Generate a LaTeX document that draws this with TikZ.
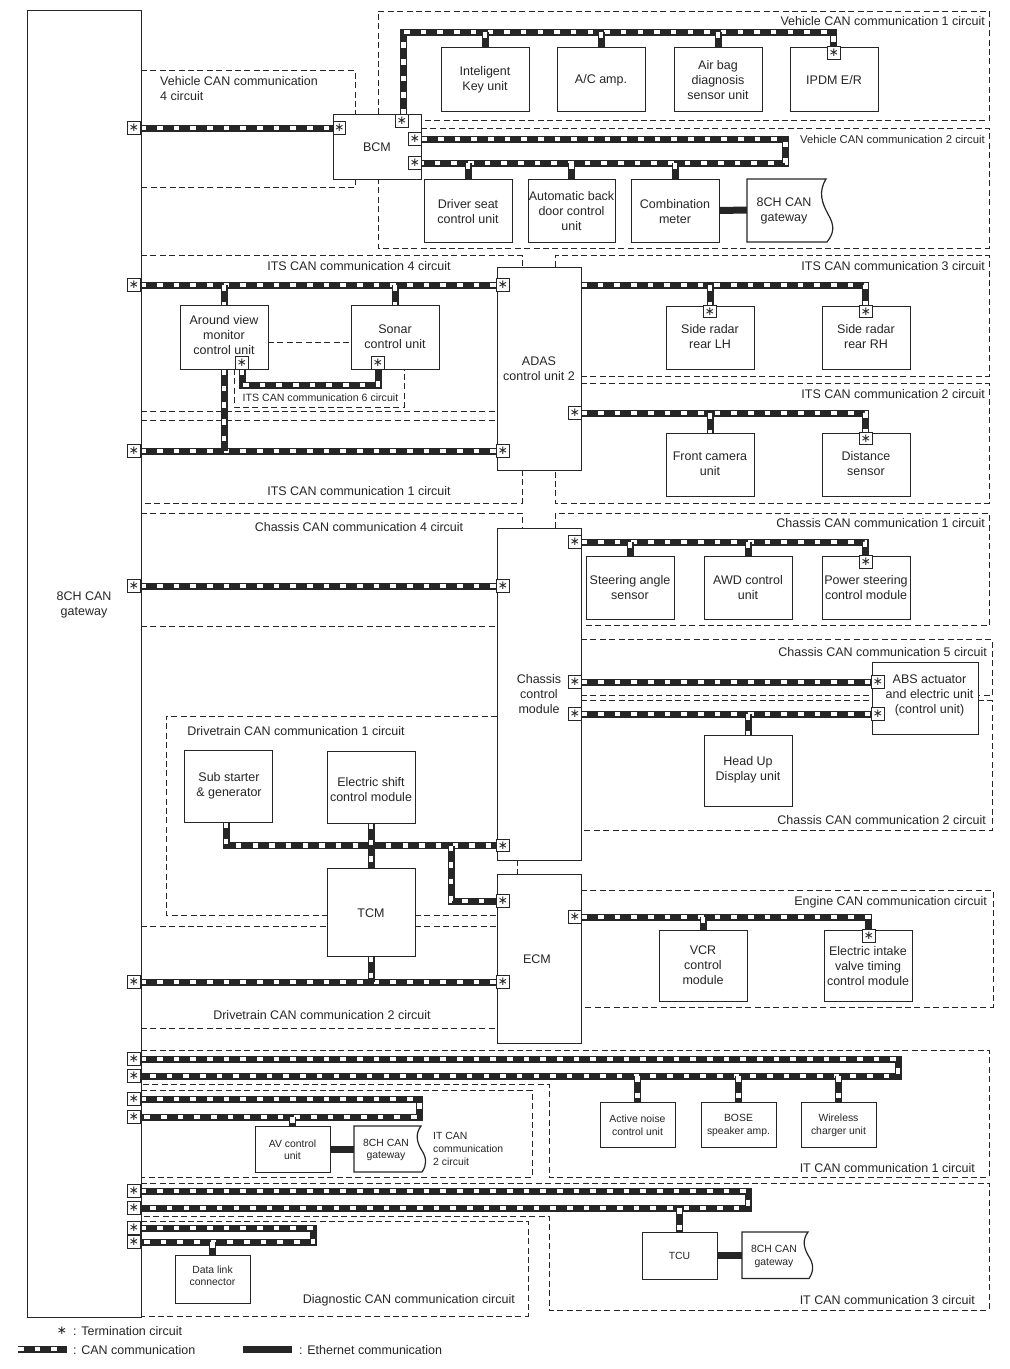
\documentclass[tikz,border=0pt]{standalone}
\usepackage{fontspec}
\setmainfont{Liberation Sans}
\newfontfamily\symf{DejaVu Sans}
\usetikzlibrary{backgrounds}
\definecolor{ink}{HTML}{262626}
\tikzset{
  x=1pt,y=-1pt,
  every node/.style={text=ink},
  box/.style={draw=ink,line width=1pt,fill=white,inner sep=0pt,outer sep=0pt},
  wavybox/.style={draw=ink,line width=1.2pt,fill=white},
  boxtext/.style={align=center,inner sep=0pt,font=\fontsize{12.5}{15}\selectfont},
  smalltext/.style={align=center,inner sep=0pt,font=\fontsize{10.4}{12.7}\selectfont},
  labr/.style={anchor=east,inner sep=0pt,yshift=-.9pt,font=\fontsize{12.5}{15}\selectfont},
  labm/.style={inner sep=0pt,yshift=-.9pt,font=\fontsize{12.5}{15}\selectfont},
  labl/.style={anchor=west,inner sep=0pt,yshift=-.9pt,align=left,font=\fontsize{12.5}{15}\selectfont},
  term/.style={box,minimum size=12.6pt,font=\symf\fontsize{12}{12}\selectfont},
  region/.style={draw=ink,line width=1pt,dash pattern=on 6pt off 3.4pt},
  canbus/.style={draw=ink,line width=7pt,postaction={draw=white,line width=4.6pt,dash pattern=on 5.6pt off 11.07pt}},
  ether/.style={draw=ink,line width=7pt},
}
\newcommand\BOX[7][0]{%
  \node[box,minimum width={#5-#3},minimum height={#6-#4}] (#2) at ({(#3+#5)/2},{(#4+#6)/2}) {};
  \node[boxtext,yshift={(#1-.9)*1pt}] (#2txt) at (#2) {#7};
}
\newcommand\SBOX[7][0]{%
  \node[box,minimum width={#5-#3},minimum height={#6-#4}] (#2) at ({(#3+#5)/2},{(#4+#6)/2}) {};
  \node[smalltext,yshift={(#1-.9)*1pt}] (#2txt) at (#2) {#7};
}
\newcommand\T[3]{\node[term] (#1) at (#2,#3) {∗};}
\begin{document}
\begin{tikzpicture}
\useasboundingbox (0,0) rectangle (1010,1369);
% ---------- units
\BOX[59]{gw}{27}{10}{141}{1317}{8CH CAN\\gateway}
\BOX{bcm}{333}{114}{421}{179}{BCM}
\BOX{ikey}{441}{47}{529}{111}{Inteligent\\Key unit}
\BOX{ac}{557}{47}{645}{111}{A/C amp.}
\BOX{airbag}{674}{47}{762}{111}{Air bag\\diagnosis\\sensor unit}
\BOX{ipdm}{790}{47}{878}{111}{IPDM E/R}
\BOX{driver}{424}{179}{512}{242}{Driver seat\\control unit}
\BOX{autob}{528}{179}{615}{242}{Automatic back\\door control\\unit}
\BOX{combi}{631}{179}{719}{242}{Combination\\meter}
\draw[wavybox] (747,179) -- (826,179) .. controls (818,192) and (822,203) .. (828,214) .. controls (835,226) and (834,233) .. (827,242) -- (747,242) -- cycle;
\node[boxtext,minimum width=74pt,minimum height=63pt] (gwa) at (784,210) {};
\node[boxtext,yshift=-.9pt] (gwatxt) at (gwa) {8CH CAN\\gateway};
\BOX[1]{adas}{497}{267}{581}{470}{ADAS\\control unit 2}
\BOX[3]{avm}{180}{305}{268}{369}{Around view\\monitor\\control unit}
\BOX[1.5]{sonar}{351}{305}{439}{369}{Sonar\\control unit}
\BOX[2]{srl}{666}{306}{754}{369}{Side radar\\rear LH}
\BOX[2]{srr}{822}{306}{910}{369}{Side radar\\rear RH}
\BOX[2]{fcam}{666}{433}{754}{496}{Front camera\\unit}
\BOX[2]{dist}{822}{433}{910}{496}{Distance\\sensor}
\BOX[1]{chassis}{497}{528}{581}{860}{Chassis\\control\\module}
\BOX[1]{steer}{586}{556}{674}{619}{Steering angle\\sensor}
\BOX[1]{awd}{704}{556}{792}{619}{AWD control\\unit}
\BOX[1]{pstr}{822}{556}{910}{619}{Power steering\\control module}
\BOX[3]{abs}{872}{662}{978}{734}{\hspace*{9pt}ABS actuator\\\hspace*{9pt}and electric unit\\\hspace*{9pt}(control unit)}
\BOX[2]{hud}{704}{735}{792}{806}{Head Up\\Display unit}
\BOX[1.5]{subst}{184}{750}{272}{822}{\hspace*{2pt}Sub starter\\\hspace*{2pt}\&\ generator}
\BOX[-1.5]{eshift}{327}{751}{415}{823}{Electric shift\\control module}
\BOX{tcm}{327}{868}{415}{956}{TCM}
\BOX{ecm}{497}{874}{581}{1043}{ECM\hspace{4pt}}
\BOX[1.5]{vcr}{659}{930}{747}{1001}{VCR\\control\\module}
\BOX{eivt}{824}{930}{912}{1001}{Electric intake\\valve timing\\control module}
\SBOX{anc}{600}{1102}{675}{1147}{Active noise\\control unit}
\SBOX{bose}{701}{1102}{776}{1147}{BOSE\\speaker amp.}
\SBOX{wcu}{801}{1102}{876}{1147}{Wireless\\charger unit}
\SBOX{av}{255}{1126}{330}{1172}{AV control\\unit}
\draw[wavybox] (354,1126) -- (421,1126) .. controls (415,1134) and (417,1142) .. (421,1149) .. controls (427,1158) and (427,1165) .. (422,1172) -- (354,1172) -- cycle;
\node[smalltext,minimum width=64pt,minimum height=46pt] (gwb) at (386,1149) {};
\node[smalltext,yshift=-.9pt] (gwbtxt) at (gwb) {8CH CAN\\gateway};
\SBOX{tcu}{642}{1232}{717}{1279}{TCU}
\draw[wavybox] (742,1232) -- (808,1232) .. controls (802,1240) and (804,1248) .. (808,1255) .. controls (814,1264) and (814,1271) .. (809,1278.5) -- (742,1278.5) -- cycle;
\node[smalltext,minimum width=64pt,minimum height=46pt] (gwc) at (774,1255.5) {};
\node[smalltext,yshift=-.9pt] (gwctxt) at (gwc) {8CH CAN\\gateway};
\SBOX[4.5]{dlc}{175}{1255.5}{250}{1303}{Data link\\connector}
% ---------- termination circuits
\T{tgBcm}{134}{128}\T{tBcmL}{339.5}{128}\T{tBcmT}{402}{121}\T{tBcmA}{415}{139}\T{tBcmB}{415}{163}\T{tIpdm}{834}{53}
\T{tg4a}{134}{285}\T{tA4}{503}{285}\T{tg1}{134}{451}\T{tA1}{503}{451}\T{tA2}{575}{413}
\T{tSrl}{710}{311.5}\T{tSrr}{866}{311.5}\T{tDist}{866}{438.5}\T{tAvm}{242}{363}\T{tSon}{378}{363}
\T{tg4c}{134}{586}\T{tC4}{503}{586}\T{tC1}{575}{542}\T{tPs}{866}{562}
\T{tC5}{575}{682}\T{tC2}{575}{714}\T{tAbsA}{878}{682}\T{tAbsB}{878}{714}
\T{tCd}{503}{845.5}\T{tEd}{503}{901}\T{tEe}{575}{917}\T{tEi}{869}{936}\T{tEd2}{503}{982}\T{tgd2}{134}{982}
\T{tgi1a}{134}{1059}\T{tgi1b}{134}{1076}\T{tgi2a}{134}{1099}\T{tgi2b}{134}{1117}
\T{tgi3a}{134}{1191}\T{tgi3b}{134}{1208}\T{tgda}{134}{1228}\T{tgdb}{134}{1242}
% ---------- circuit labels
\node[labl] (l4a) at (160,80) {Vehicle CAN communication};
\node[labl] (l4b) at (160,95) {4 circuit};
\node[labr] (lv1) at (985,20) {Vehicle CAN communication 1 circuit};
\node[labr,font=\fontsize{11.3}{13}\selectfont] (lv2) at (985,138.5) {Vehicle CAN communication 2 circuit};
\node[labm] (li4) at (359,265.5) {ITS CAN communication 4 circuit};
\node[labr] (li3) at (985,265.5) {ITS CAN communication 3 circuit};
\node[labr] (li2) at (985,393.5) {ITS CAN communication 2 circuit};
\node[labm] (li1) at (359,490.5) {ITS CAN communication 1 circuit};
\node[labm,font=\fontsize{10.6}{12}\selectfont] (li6) at (320.5,397) {ITS CAN communication 6 circuit};
\node[labm] (lc4) at (359,526.5) {Chassis CAN communication 4 circuit};
\node[labr] (lc1) at (985,522.5) {Chassis CAN communication 1 circuit};
\node[labr] (lc5) at (987,651.5) {Chassis CAN communication 5 circuit};
\node[labr] (lc2) at (986,819) {Chassis CAN communication 2 circuit};
\node[labm] (ld1) at (296,730) {Drivetrain CAN communication 1 circuit};
\node[labm] (ld2) at (322,1014.5) {Drivetrain CAN communication 2 circuit};
\node[labr] (len) at (987,901.5) {Engine CAN communication circuit};
\node[labr] (lit1) at (975,1167.5) {IT CAN communication 1 circuit};
\node[labr] (lit3) at (975,1299) {IT CAN communication 3 circuit};
\node[labr] (ldg) at (515,1299.5) {Diagnostic CAN communication circuit};
\node[smalltext,anchor=west,align=left,yshift=-.9pt] (lit2) at (433,1148) {IT CAN\\communication\\2 circuit};
% ---------- legend
\node[inner sep=0pt,font=\symf\fontsize{12}{12}\selectfont] (legst) at (62,1331) {∗};
\node[labl] (legt) at (73,1330) {: Termination circuit};
\node[labl] (legc) at (73,1349) {: CAN communication};
\node[labl] (lege) at (299,1349) {: Ethernet communication};
\coordinate (legcA) at (18,1349); \coordinate (legcB) at (67,1349);
\coordinate (legeA) at (243,1349); \coordinate (legeB) at (292,1349);
% ---------- corners of the buses
\coordinate (v1a) at (403.5,32); \coordinate (v1b) at (833.5,32);
\coordinate (v2a) at (785.5,139); \coordinate (v2b) at (785.5,163);
\coordinate (a3b) at (865.5,285); \coordinate (a2b) at (865.5,413);
\coordinate (a6a) at (242,385); \coordinate (a6b) at (378,385);
\coordinate (c1b) at (865,542);
\coordinate (ds) at (226,845.5); \coordinate (dj) at (451,845.5); \coordinate (dk) at (451,901);
\coordinate (e1b) at (868.5,917);
\coordinate (i1a) at (898,1059); \coordinate (i1b) at (898,1076);
\coordinate (i2a) at (419.5,1099); \coordinate (i2b) at (419.5,1117);
\coordinate (i3a) at (748,1191); \coordinate (i3b) at (748,1208);
\coordinate (dga) at (313,1228); \coordinate (dgb) at (313,1242);
\begin{scope}[on background layer]
% ---------- dashed circuit regions
\draw[region] (378,114) -- (378,11) -- (989,11) -- (989,120.5) -- (421,120.5);
\draw[region] (421,128) -- (989,128) -- (989,248) -- (378,248) -- (378,179);
\draw[region] (141,70.5) -- (355,70.5) -- (355,114);
\draw[region] (355,179) -- (355,187.5) -- (141,187.5);
\draw[region] (141,255.5) -- (522,255.5) -- (522,267);
\draw[region] (555,267) -- (555,255.5) -- (989,255.5) -- (989,376) -- (581,376);
\draw[region] (141,411.5) -- (497,411.5);
\draw[region] (141,420.5) -- (497,420.5);
\draw[region] (581,383.5) -- (989,383.5) -- (989,503) -- (555,503) -- (555,470);
\draw[region] (522,470) -- (522,503) -- (141,503);
\draw[region] (234,369) -- (234,407) -- (404,407) -- (404,369);
\draw[region] (268,342) -- (351,342);
\draw[region] (141,513) -- (522,513) -- (522,528);
\draw[region] (555,528) -- (555,513) -- (989,513) -- (989,625.5) -- (581,625.5);
\draw[region] (141,626) -- (497,626);
\draw[region] (581,639) -- (992,639) -- (992,695.5) -- (978,695.5);
\draw[region] (581,695.5) -- (872,695.5);
\draw[region] (581,700.5) -- (872,700.5);
\draw[region] (978,700.5) -- (992,700.5) -- (992,830) -- (581,830);
\draw[region] (497,716) -- (166,716) -- (166,915) -- (327,915);
\draw[region] (415,915) -- (497,915);
\draw[region] (141,926) -- (327,926);
\draw[region] (415,926) -- (497,926);
\draw[region] (141,1028) -- (497,1028);
\draw[region] (517,860) -- (517,874);
\draw[region] (581,890) -- (993,890) -- (993,1007) -- (581,1007);
\draw[region] (141,1050) -- (989,1050) -- (989,1177) -- (549,1177) -- (549,1084) -- (141,1084);
\draw[region] (141,1090) -- (532,1090) -- (532,1177) -- (141,1177);
\draw[region] (141,1183) -- (989,1183) -- (989,1310) -- (549,1310) -- (549,1216) -- (141,1216);
\draw[region] (141,1221) -- (528,1221) -- (528,1316) -- (141,1316);
% ---------- Ethernet
\draw[ether] (combi.east) -- (gwa.west);
\draw[ether] (av.east) -- (gwb.west);
\draw[ether] (tcu.east) -- (gwc.west);
\draw[ether] (legeA) -- (legeB);
% ---------- CAN buses
\draw[canbus] (legcA) -- (legcB);
\draw[canbus] (tgBcm.east) -- (tBcmL.west);
\draw[canbus] (tBcmT.north -| v1a) -- (v1a) -- (v1b) -- (v1b |- tIpdm.north);
\foreach \b in {ikey,ac,airbag} \draw[canbus] (\b.north |- v1a) -- (\b.north);
\draw[canbus] (tBcmA.east) -- (v2a) -- (v2b) -- (tBcmB.east);
\foreach \b in {driver,autob,combi} \draw[canbus] (\b.north |- v2b) -- (\b.north);
\draw[canbus] (tg4a.east) -- (tA4.west);
\draw[canbus] (avm.north |- tg4a) -- (avm.north);
\draw[canbus] (sonar.north |- tg4a) -- (sonar.north);
\draw[canbus] (adas.east |- a3b) -- (a3b) -- (a3b |- tSrr.north);
\draw[canbus] (tSrl.north |- a3b) -- (tSrl.north);
\draw[canbus] (tA2.east) -- (a2b) -- (a2b |- tDist.north);
\draw[canbus] (fcam.north |- a2b) -- (fcam.north);
\draw[canbus] (tg1.east) -- (tA1.west);
\draw[canbus] (avm.south) -- (avm.south |- tg1);
\draw[canbus] (tAvm.south) -- (a6a) -- (a6b) -- (tSon.south);
\draw[canbus] (tg4c.east) -- (tC4.west);
\draw[canbus] (tC1.east) -- (c1b) -- (c1b |- tPs.north);
\draw[canbus] (steer.north |- c1b) -- (steer.north);
\draw[canbus] (awd.north |- c1b) -- (awd.north);
\draw[canbus] (tC5.east) -- (tAbsA.west);
\draw[canbus] (tC2.east) -- (tAbsB.west);
\draw[canbus] (hud.north |- tC2) -- (hud.north);
\draw[canbus] (subst.south -| ds) -- (ds) -- (tCd.west);
\draw[canbus] (dj) -- (dk) -- (tEd.west);
\draw[canbus] (eshift.south) -- (tcm.north);
\draw[canbus] (tgd2.east) -- (tEd2.west);
\draw[canbus] (tcm.south) -- (tcm.south |- tgd2);
\draw[canbus] (tEe.east) -- (e1b) -- (e1b |- tEi.north);
\draw[canbus] (vcr.north |- e1b) -- (vcr.north);
\draw[canbus] (tgi1a.east) -- (i1a) -- (i1b) -- (tgi1b.east);
\foreach \b in {anc,bose,wcu} \draw[canbus] (\b.north |- i1b) -- (\b.north);
\draw[canbus] (tgi2a.east) -- (i2a) -- (i2b) -- (tgi2b.east);
\draw[canbus] (av.north |- i2b) -- (av.north);
\draw[canbus] (tgi3a.east) -- (i3a) -- (i3b) -- (tgi3b.east);
\draw[canbus] (tcu.north |- i3b) -- (tcu.north);
\draw[canbus] (tgda.east) -- (dga) -- (dgb) -- (tgdb.east);
\draw[canbus] (dlc.north |- dgb) -- (dlc.north);
\end{scope}
\end{tikzpicture}
\end{document}
